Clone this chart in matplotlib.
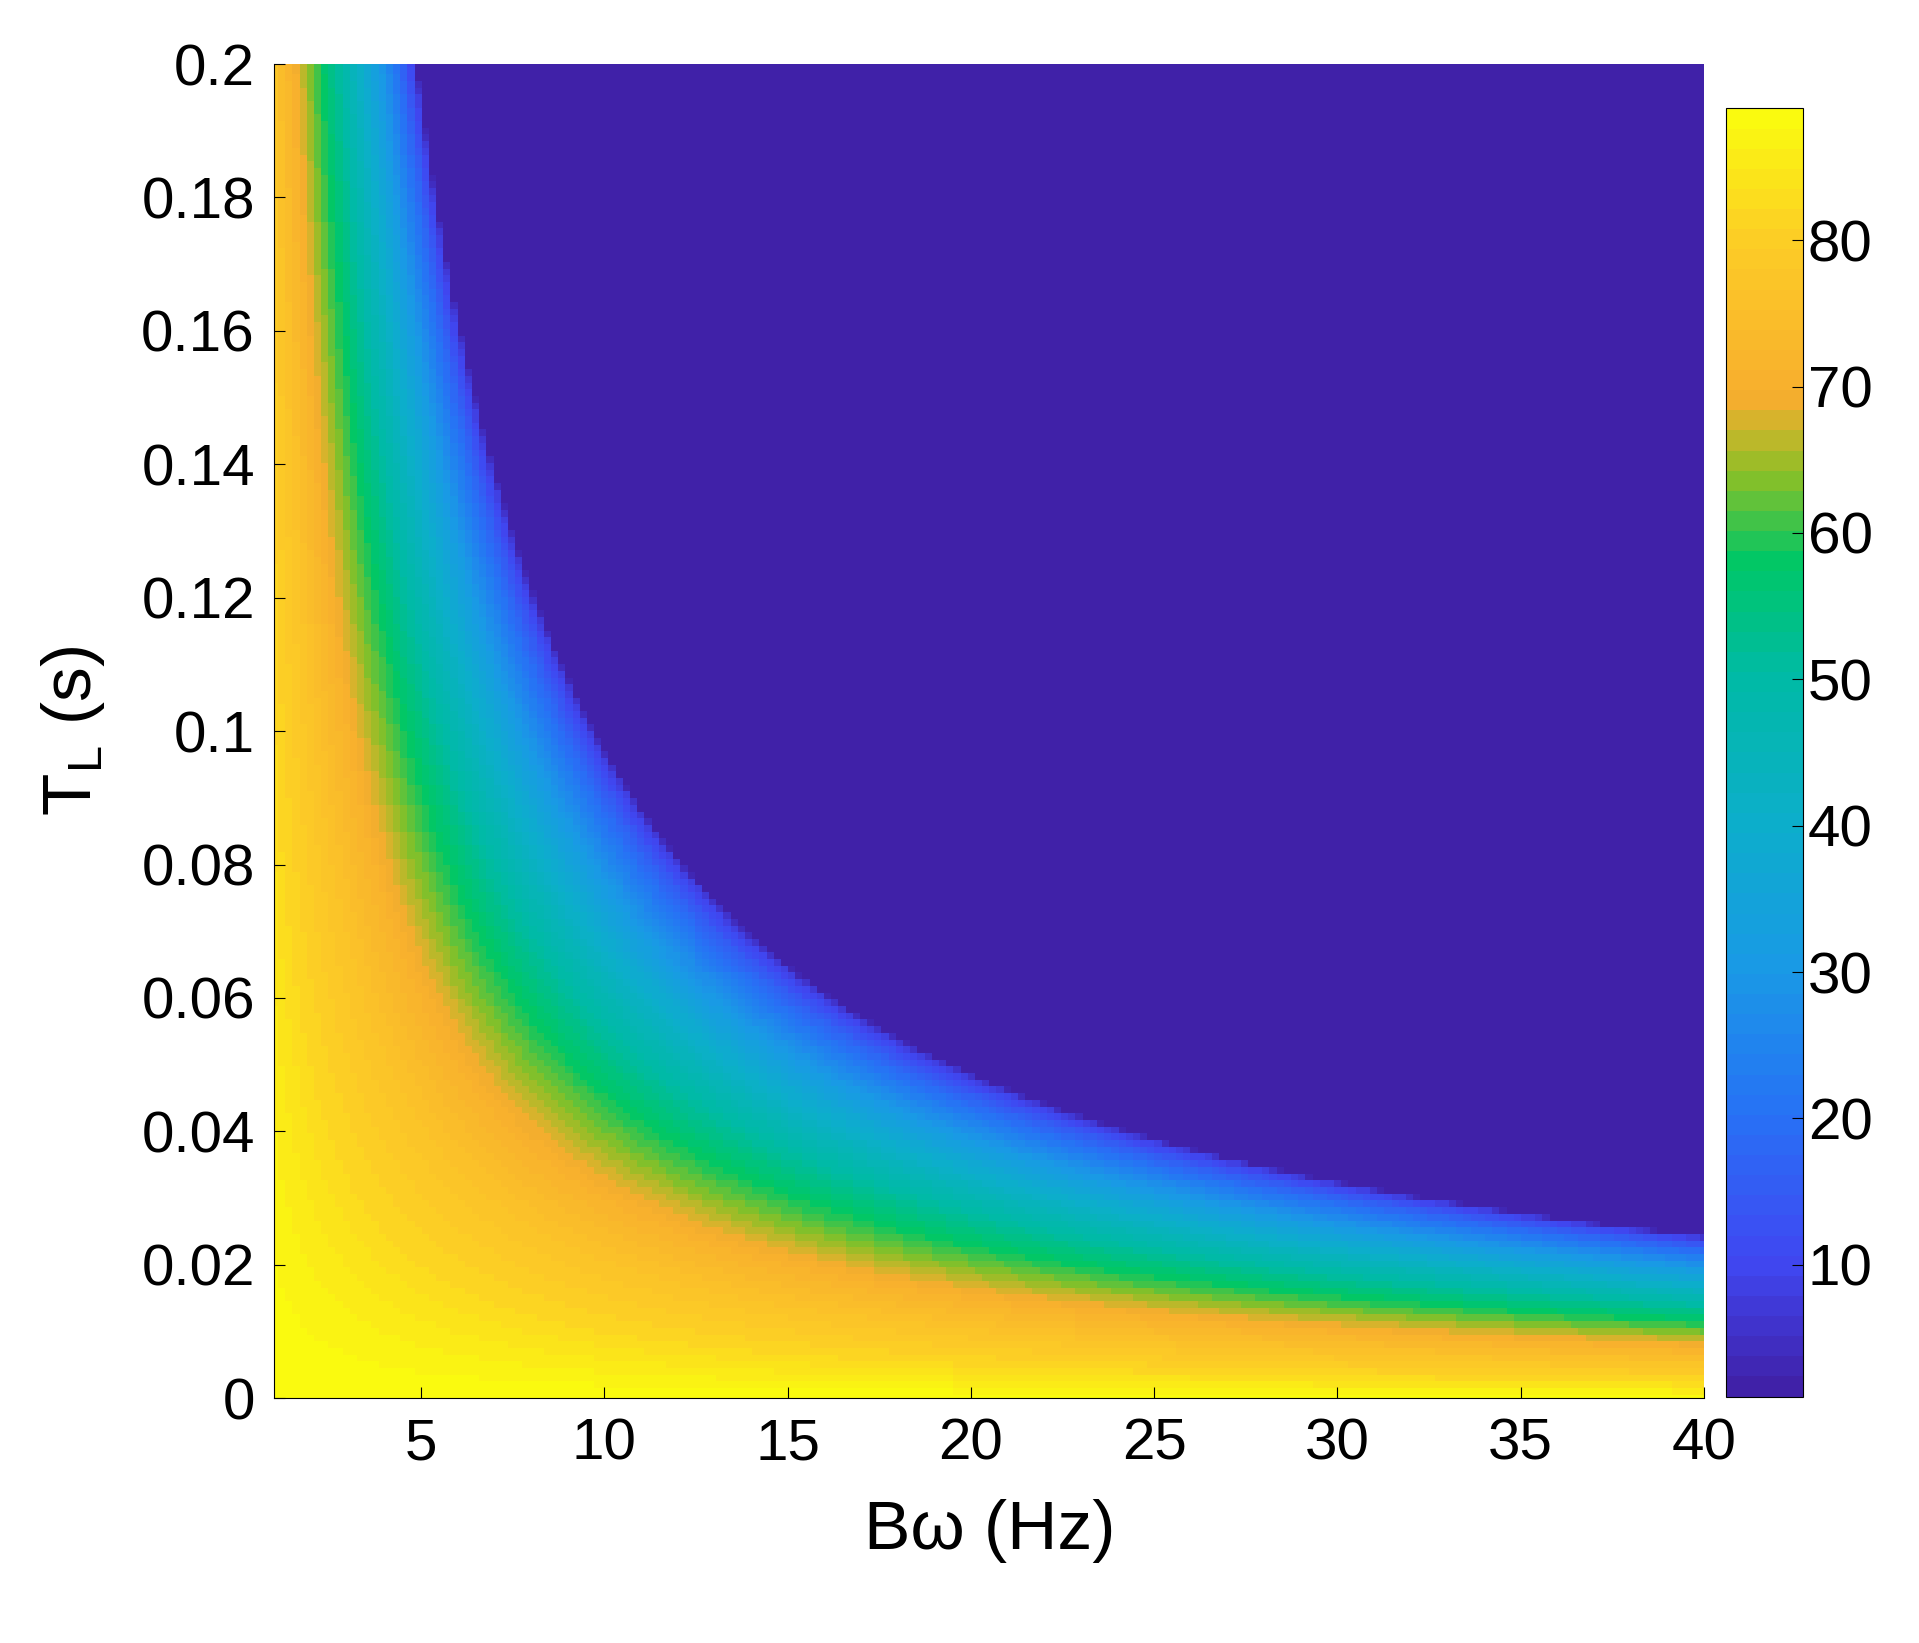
import numpy as np
import matplotlib
matplotlib.use("Agg")
import matplotlib.pyplot as plt
from matplotlib.colors import LinearSegmentedColormap

# Data: level as function of product Bw*TL
prod_pts = [0.0, 0.1, 0.2, 0.3, 0.4, 0.5, 0.6, 0.7, 0.8, 0.9, 0.96, 0.975, 10.0]
level_pts = [89, 82, 77, 71, 63, 55, 47, 38, 28, 17, 8, 1, 1]
bw = np.linspace(1, 40, 200)
tl = np.linspace(0, 0.2, 200)

parula = LinearSegmentedColormap.from_list("parula", [
    (0.0, (0.25, 0.13, 0.66)), (0.1, (0.25, 0.28, 0.95)), (0.22, (0.15, 0.45, 0.96)),
    (0.33, (0.10, 0.60, 0.90)), (0.44, (0.05, 0.68, 0.80)), (0.56, (0.0, 0.73, 0.65)),
    (0.65, (0.0, 0.78, 0.40)), (0.72, (0.55, 0.75, 0.15)), (0.78, (0.97, 0.68, 0.18)),
    (0.9, (0.99, 0.80, 0.15)), (1.0, (0.98, 0.98, 0.06))], N=64)

B, T = np.meshgrid(bw, tl)
Z = np.interp(B * T, prod_pts, level_pts)

plt.rcParams['font.family'] = ['Liberation Sans', 'DejaVu Sans']
fig = plt.figure(figsize=(19.19, 16.43), dpi=100)
ax = fig.add_axes([0.143, 0.149, 0.745, 0.812])
m = ax.pcolormesh(B, T, Z, cmap=parula, vmin=1, vmax=89, shading='auto')
ax.set_xlim(1, 40); ax.set_ylim(0, 0.2)
ax.set_xticks([5, 10, 15, 20, 25, 30, 35, 40])
ax.set_yticks([0, 0.02, 0.04, 0.06, 0.08, 0.1, 0.12, 0.14, 0.16, 0.18, 0.2])
ax.set_yticklabels(['0', '0.02', '0.04', '0.06', '0.08', '0.1', '0.12', '0.14', '0.16', '0.18', '0.2'])
ax.tick_params(labelsize=42, direction='in', length=8, pad=14)
for s in ['top', 'right']:
    ax.spines[s].set_visible(False)
ax.set_xlabel('Bω (Hz)', fontsize=50, labelpad=20)
ax.set_ylabel('T$_\\mathregular{L}$ (s)', fontsize=50, labelpad=25)
cax = fig.add_axes([0.8995, 0.150, 0.040, 0.784])
cb = fig.colorbar(m, cax=cax, ticks=[10, 20, 30, 40, 50, 60, 70, 80])
cb.ax.tick_params(labelsize=42, direction='in', length=8)
fig.savefig('out.png', dpi=100)
